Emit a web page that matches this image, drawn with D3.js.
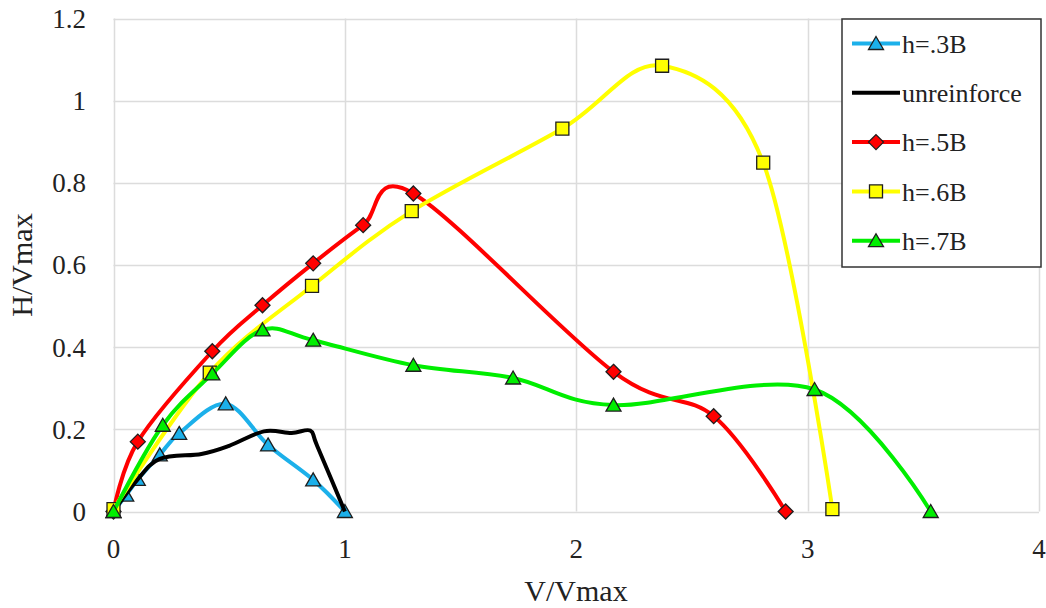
<!DOCTYPE html>
<html>
<head>
<meta charset="utf-8">
<script src="https://cdn.jsdelivr.net/npm/d3@7"></script>
<style>
  body { margin: 0; background: #fff; }
</style>
</head>
<body>
<script>
var width = 1046, height = 608;
var serif = "'Liberation Serif', 'DejaVu Serif', serif";

// data: [V/Vmax, H/Vmax]
var h3B = [[0,0],[0.055,0.04],[0.105,0.078],[0.2,0.138],[0.284,0.19],[0.485,0.262],[0.668,0.162],[0.863,0.077],[1.0,0]];
var unreinforce = [[0,0],[0.1,0.075],[0.2,0.128],[0.38,0.14],[0.5,0.16],[0.65,0.195],[0.77,0.191],[0.85,0.197],[0.88,0.16],[1.0,0]];
var h5B = [[0,0],[0.105,0.17],[0.427,0.39],[0.644,0.502],[0.863,0.604],[1.079,0.697],[1.296,0.774],[2.161,0.34],[2.594,0.232],[2.905,0]];
var h6B = [[0,0.006],[0.416,0.338],[0.858,0.549],[1.289,0.731],[1.94,0.932],[2.371,1.085],[2.808,0.849],[3.107,0.006]];
var h7B = [[0,0],[0.213,0.21],[0.427,0.335],[0.644,0.442],[0.863,0.417],[1.296,0.356],[1.727,0.325],[2.161,0.259],[3.03,0.297],[3.532,0]];

var xTicks = [0, 1, 2, 3, 4];
var yTicks = [0, 0.2, 0.4, 0.6, 0.8, 1, 1.2];

var series = [
  {name: "h=.3B", values: h3B, color: "#1cb0ea", marker: "triangle"},
  {name: "unreinforce", values: unreinforce, color: "#000000", marker: null},
  {name: "h=.5B", values: h5B, color: "#ff0000", marker: "diamond"},
  {name: "h=.6B", values: h6B, color: "#ffff00", marker: "square"},
  {name: "h=.7B", values: h7B, color: "#00ee00", marker: "triangle"}
];

var x = d3.scaleLinear().domain([0, 4]).range([113.5, 1039]);
var y = d3.scaleLinear().domain([0, 1.2]).range([511.5, 18.5]);

var svg = d3.select("body").append("svg")
    .attr("width", width)
    .attr("height", height)
    .attr("font-family", serif)
    .style("font-family", serif);

// gridlines
svg.append("g").selectAll("line.h")
  .data(yTicks).enter().append("line")
  .attr("x1", x(0)).attr("x2", x(4))
  .attr("y1", function(d) { return Math.round(y(d)) + 0.5; })
  .attr("y2", function(d) { return Math.round(y(d)) + 0.5; })
  .style("stroke", "#dcdcdc").style("stroke-width", "1.5px");

svg.append("g").selectAll("line.v")
  .data(xTicks).enter().append("line")
  .attr("y1", y(0)).attr("y2", y(1.2))
  .attr("x1", function(d) { return Math.round(x(d)) + 0.5; })
  .attr("x2", function(d) { return Math.round(x(d)) + 0.5; })
  .style("stroke", "#dcdcdc").style("stroke-width", "1.5px");

// tick labels
svg.append("g").selectAll("text")
  .data(yTicks).enter().append("text")
  .attr("x", 86)
  .attr("y", function(d) { return y(d); })
  .attr("dy", "0.35em")
  .attr("text-anchor", "end")
  .style("font-size", "27px")
  .style("fill", "#222")
  .text(function(d) { return d3.format("~g")(d); });

svg.append("g").selectAll("text")
  .data(xTicks).enter().append("text")
  .attr("x", function(d) { return x(d); })
  .attr("y", 558)
  .attr("text-anchor", "middle")
  .style("font-size", "27px")
  .style("fill", "#222")
  .text(function(d) { return d; });

// axis titles
svg.append("text")
  .attr("x", 576).attr("y", 601)
  .attr("text-anchor", "middle")
  .style("font-size", "30px")
  .style("fill", "#222")
  .text("V/Vmax");

svg.append("text")
  .attr("transform", "translate(32,265)rotate(-90)")
  .attr("text-anchor", "middle")
  .style("font-size", "30px")
  .style("fill", "#222")
  .text("H/Vmax");

// marker shapes
function markerPath(type) {
  if (type === "triangle") return "M0,-7L7.5,6L-7.5,6Z";
  if (type === "diamond") return "M0,-7.5L7.5,0L0,7.5L-7.5,0Z";
  if (type === "square") return "M-6.5,-6.5H6.5V6.5H-6.5Z";
  return null;
}

var line = d3.line()
  .x(function(d) { return x(d[0]); })
  .y(function(d) { return y(d[1]); })
  .curve(d3.curveCardinal.tension(0));

var plot = svg.append("g");
series.forEach(function(s) {
  var g = plot.append("g");
  g.append("path")
    .attr("d", line(s.values))
    .style("fill", "none")
    .style("stroke", s.color)
    .style("stroke-width", "4px")
    .style("stroke-linejoin", "round");
  if (s.marker) {
    g.selectAll("path.m")
      .data(s.values).enter().append("path")
      .attr("class", "m")
      .attr("d", markerPath(s.marker))
      .attr("transform", function(d) { return "translate(" + x(d[0]) + "," + y(d[1]) + ")"; })
      .style("fill", s.color)
      .style("stroke", "#1e1e1e")
      .style("stroke-width", "1.3px");
  }
});

// legend
var legend = svg.append("g");
legend.append("rect")
  .attr("x", 842).attr("y", 19)
  .attr("width", 199).attr("height", 248)
  .style("fill", "#fff")
  .style("stroke", "#333")
  .style("stroke-width", "1.5px");

var item = legend.selectAll("g.item")
  .data(series).enter().append("g")
  .attr("transform", function(d, i) { return "translate(0," + (43.5 + i * 49.3) + ")"; });

item.append("line")
  .attr("x1", 852).attr("x2", 900)
  .style("stroke", function(d) { return d.color; })
  .style("stroke-width", "4px");

item.filter(function(d) { return d.marker; }).append("path")
  .attr("d", function(d) { return markerPath(d.marker); })
  .attr("transform", "translate(876,0)")
  .style("fill", function(d) { return d.color; })
  .style("stroke", "#1e1e1e")
  .style("stroke-width", "1.3px");

item.append("text")
  .attr("x", 902)
  .attr("dy", "0.35em")
  .style("font-size", "26px")
  .style("fill", "#222")
  .text(function(d) { return d.name; });
</script>
</body>
</html>
